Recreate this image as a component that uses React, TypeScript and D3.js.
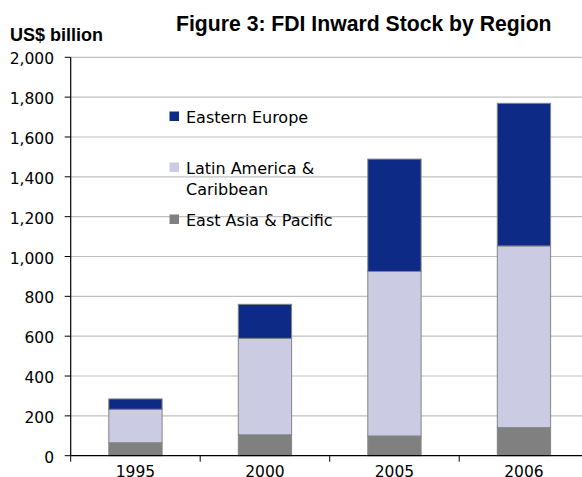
import React from "react";
import * as d3 from "d3";

const years = ["1995", "2000", "2005", "2006"];
const eastAsia = [65, 105, 99, 141];
const latinAmerica = [168, 484, 826, 912];
const easternEurope = [52, 171, 564, 716];
const seriesNames = ["East Asia & Pacific", "Latin America & Caribbean", "Eastern Europe"];
const seriesColors = ["#808080", "#CBCBE3", "#0D2A86"];
const yTicks = [0, 200, 400, 600, 800, 1000, 1200, 1400, 1600, 1800, 2000];

const W = 582, H = 477;
const left = 70.7, top = 57.3, bottom = 455.7;
const bandStep = 129.5;

export default function App() {
  const x = d3.scaleBand<string>().domain(years).range([left, left + bandStep * years.length]).paddingInner(0).paddingOuter(0);
  const y = d3.scaleLinear().domain([0, 2000]).range([bottom, top]);
  const barW = 53.3;
  const rows = years.map((yr, i) => ({ year: yr, ea: eastAsia[i], la: latinAmerica[i], ee: easternEurope[i] }));
  const stack = d3.stack<any>().keys(["ea", "la", "ee"])(rows);
  const fmt = d3.format(",");
  const font = "DejaVu Sans, Verdana, sans-serif";

  const legend = [
    { color: seriesColors[2], lines: ["Eastern Europe"], y: 116 },
    { color: seriesColors[1], lines: ["Latin America &", "Caribbean"], y: 167 },
    { color: seriesColors[0], lines: ["East Asia & Pacific"], y: 219 },
  ];

  return (
    <svg width={W} height={H} style={{ position: "absolute", left: 0, top: 0, background: "#fff" }}>
      <rect x={0} y={0} width={W} height={H} fill="#fff" />
      {yTicks.filter(t => t > 0).map(t => (
        <line key={"g" + t} x1={left} x2={W} y1={y(t)} y2={y(t)} stroke="#C0C0C0" strokeWidth={1.2} />
      ))}
      {stack.map((s, si) => (
        <g key={si}>
          {s.map((d, i) => (
            <rect key={i}
              x={(x(years[i]) as number) + (x.bandwidth() - barW) / 2}
              y={y(d[1])}
              width={barW}
              height={y(d[0]) - y(d[1])}
              fill={seriesColors[si]}
              stroke="#858585"
              strokeWidth={1}
            />
          ))}
        </g>
      ))}
      <line x1={left} x2={left} y1={top} y2={bottom} stroke="#000" strokeWidth={1.2} />
      <line x1={left} x2={W} y1={bottom} y2={bottom} stroke="#000" strokeWidth={1.2} />
      {yTicks.map(t => (
        <g key={"t" + t}>
          <line x1={left - 6} x2={left} y1={y(t)} y2={y(t)} stroke="#000" strokeWidth={1} />
          <text x={54} y={y(t) + 7} textAnchor="end" fontFamily={font} fontSize={15.5} fill="#000">{fmt(t)}</text>
        </g>
      ))}
      {years.map((yr, i) => (
        <g key={"x" + yr}>
          <line x1={(x(yr) as number)} x2={(x(yr) as number)} y1={bottom} y2={bottom + 6} stroke="#000" strokeWidth={1} />
          <text x={(x(yr) as number) + x.bandwidth() / 2} y={477} textAnchor="middle" fontFamily={font} fontSize={15.5} fill="#000">{yr}</text>
        </g>
      ))}
      {legend.map((l, i) => (
        <g key={"l" + i}>
          <rect x={169.5} y={l.y - 4.5} width={9.5} height={9.5} fill={l.color} />
          {l.lines.map((ln, j) => (
            <text key={j} x={186} y={l.y + 7 + j * 21} fontFamily={font} fontSize={16} fill="#000">{ln}</text>
          ))}
        </g>
      ))}
      <text x={176} y={31} fontFamily="Liberation Sans, Arial, sans-serif" fontWeight="bold" fontSize={21.2} fill="#000">Figure 3: FDI Inward Stock by Region</text>
      <text x={10} y={41} fontFamily="Liberation Sans, Arial, sans-serif" fontWeight="bold" fontSize={18} fill="#000">US$ billion</text>
    </svg>
  );
}
